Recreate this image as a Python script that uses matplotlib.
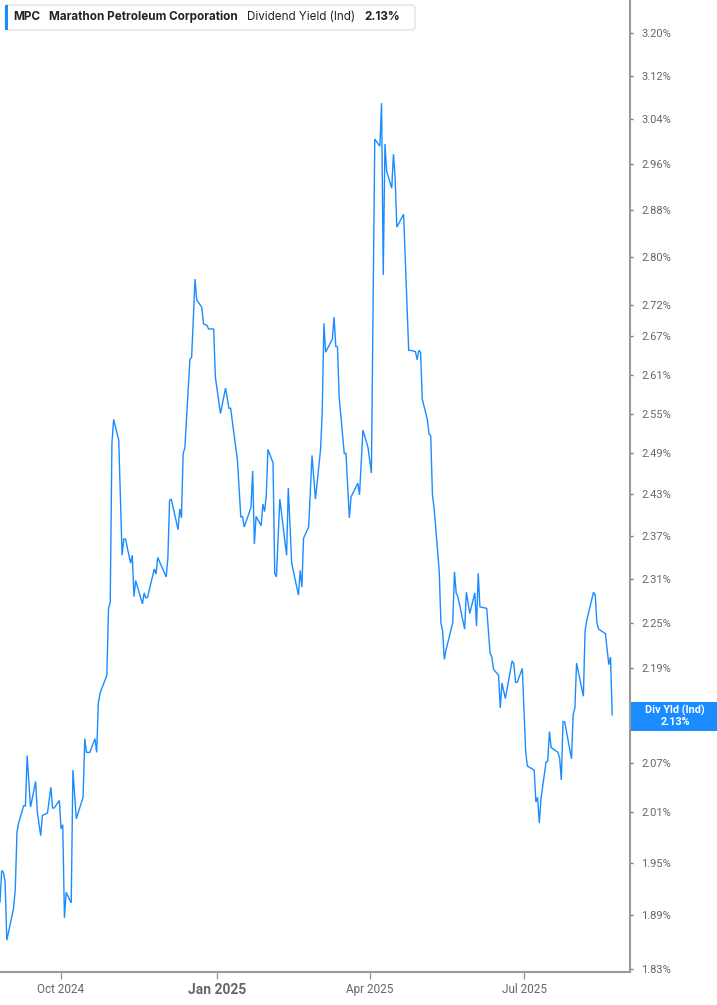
import matplotlib
matplotlib.use("Agg")
import matplotlib.pyplot as plt
import matplotlib.ticker as mticker
from matplotlib.patches import FancyBboxPatch, Rectangle
import pandas as pd

# Dividend yield (indicated), %
dates = [
    "2024-08-26", "2024-08-27", "2024-08-28", "2024-08-29", "2024-08-30", "2024-09-03",
    "2024-09-04", "2024-09-05", "2024-09-06", "2024-09-09", "2024-09-10", "2024-09-11",
    "2024-09-13", "2024-09-16", "2024-09-17", "2024-09-19", "2024-09-20", "2024-09-23",
    "2024-09-25", "2024-09-26", "2024-09-27", "2024-09-30", "2024-10-01", "2024-10-02",
    "2024-10-03", "2024-10-04", "2024-10-07", "2024-10-08", "2024-10-10", "2024-10-14",
    "2024-10-15", "2024-10-16", "2024-10-18", "2024-10-21", "2024-10-22", "2024-10-23",
    "2024-10-24", "2024-10-28", "2024-10-29", "2024-10-30", "2024-10-31", "2024-11-01",
    "2024-11-04", "2024-11-06", "2024-11-07", "2024-11-08", "2024-11-11", "2024-11-12",
    "2024-11-13", "2024-11-14", "2024-11-18", "2024-11-19", "2024-11-20", "2024-11-21",
    "2024-11-25", "2024-11-26", "2024-11-27", "2024-12-02", "2024-12-03", "2024-12-04",
    "2024-12-05", "2024-12-09", "2024-12-10", "2024-12-11", "2024-12-12", "2024-12-13",
    "2024-12-16", "2024-12-17", "2024-12-19", "2024-12-20", "2024-12-23", "2024-12-24",
    "2024-12-26", "2024-12-27", "2024-12-30", "2024-12-31", "2025-01-03", "2025-01-06",
    "2025-01-08", "2025-01-09", "2025-01-13", "2025-01-15", "2025-01-16", "2025-01-17",
    "2025-01-21", "2025-01-22", "2025-01-23", "2025-01-24", "2025-01-27", "2025-01-28",
    "2025-01-29", "2025-01-30", "2025-01-31", "2025-02-03", "2025-02-04", "2025-02-05",
    "2025-02-07", "2025-02-11", "2025-02-12", "2025-02-14", "2025-02-18", "2025-02-19",
    "2025-02-20", "2025-02-21", "2025-02-24", "2025-02-26", "2025-02-28", "2025-03-03",
    "2025-03-04", "2025-03-05", "2025-03-06", "2025-03-10", "2025-03-11", "2025-03-12",
    "2025-03-13", "2025-03-14", "2025-03-17", "2025-03-18", "2025-03-20", "2025-03-21",
    "2025-03-25", "2025-03-26", "2025-03-28", "2025-03-31", "2025-04-02", "2025-04-04",
    "2025-04-07", "2025-04-08", "2025-04-09", "2025-04-10", "2025-04-11", "2025-04-14",
    "2025-04-15", "2025-04-16", "2025-04-17", "2025-04-21", "2025-04-24", "2025-04-25",
    "2025-04-28", "2025-04-29", "2025-04-30", "2025-05-01", "2025-05-02", "2025-05-05",
    "2025-05-06", "2025-05-07", "2025-05-08", "2025-05-09", "2025-05-12", "2025-05-13",
    "2025-05-14", "2025-05-15", "2025-05-16", "2025-05-20", "2025-05-21", "2025-05-22",
    "2025-05-23", "2025-05-27", "2025-05-28", "2025-05-30", "2025-06-02", "2025-06-03",
    "2025-06-04", "2025-06-05", "2025-06-09", "2025-06-11", "2025-06-12", "2025-06-13",
    "2025-06-16", "2025-06-17", "2025-06-18", "2025-06-20", "2025-06-24", "2025-06-25",
    "2025-06-26", "2025-06-27", "2025-06-30", "2025-07-02", "2025-07-03", "2025-07-07",
    "2025-07-08", "2025-07-09", "2025-07-10", "2025-07-11", "2025-07-14", "2025-07-15",
    "2025-07-16", "2025-07-17", "2025-07-21", "2025-07-22", "2025-07-23", "2025-07-24",
    "2025-07-25", "2025-07-29", "2025-07-30", "2025-07-31", "2025-08-01", "2025-08-05",
    "2025-08-06", "2025-08-07", "2025-08-11", "2025-08-12", "2025-08-13", "2025-08-14",
    "2025-08-18", "2025-08-20", "2025-08-21", "2025-08-22",
]
yields = [
    1.905, 1.941, 1.939, 1.928, 1.862, 1.898,
    1.919, 1.986, 1.997, 2.018, 2.017, 2.079,
    2.016, 2.047, 2.010, 1.982, 2.006, 2.009,
    2.040, 2.015, 2.015, 2.024, 1.990, 1.995,
    1.887, 1.916, 1.904, 2.061, 2.002, 2.028,
    2.100, 2.083, 2.083, 2.100, 2.083, 2.145,
    2.158, 2.181, 2.270, 2.278, 2.505, 2.541,
    2.510, 2.343, 2.366, 2.366, 2.332, 2.343,
    2.286, 2.308, 2.276, 2.291, 2.284, 2.285,
    2.324, 2.317, 2.340, 2.313, 2.340, 2.421,
    2.423, 2.379, 2.409, 2.396, 2.490, 2.498,
    2.634, 2.637, 2.763, 2.729, 2.717, 2.690,
    2.688, 2.682, 2.682, 2.606, 2.550, 2.589,
    2.558, 2.558, 2.480, 2.397, 2.398, 2.383,
    2.411, 2.464, 2.359, 2.398, 2.385, 2.416,
    2.405, 2.427, 2.496, 2.476, 2.318, 2.313,
    2.423, 2.343, 2.439, 2.332, 2.288, 2.322,
    2.299, 2.367, 2.383, 2.487, 2.423, 2.495,
    2.550, 2.691, 2.645, 2.666, 2.701, 2.654,
    2.654, 2.575, 2.490, 2.490, 2.396, 2.426,
    2.446, 2.429, 2.525, 2.499, 2.461, 3.004,
    2.991, 3.069, 2.770, 2.995, 2.947, 2.917,
    2.977, 2.935, 2.850, 2.872, 2.648, 2.648,
    2.646, 2.633, 2.648, 2.645, 2.572, 2.541,
    2.519, 2.516, 2.429, 2.410, 2.321, 2.250,
    2.240, 2.202, 2.214, 2.251, 2.320, 2.291,
    2.286, 2.242, 2.292, 2.263, 2.291, 2.246,
    2.318, 2.272, 2.270, 2.210, 2.205, 2.189,
    2.181, 2.139, 2.171, 2.151, 2.200, 2.196,
    2.172, 2.172, 2.190, 2.083, 2.066, 2.061,
    2.022, 2.028, 1.997, 2.026, 2.071, 2.072,
    2.109, 2.089, 2.083, 2.076, 2.049, 2.122,
    2.121, 2.075, 2.131, 2.139, 2.197, 2.154,
    2.239, 2.254, 2.292, 2.288, 2.250, 2.242,
    2.236, 2.195, 2.205, 2.130,
]
ytick_values = [3.20, 3.12, 3.04, 2.96, 2.88, 2.80, 2.72, 2.67, 2.61, 2.55, 2.49,
                2.43, 2.37, 2.31, 2.25, 2.19, 2.13, 2.07, 2.01, 1.95, 1.89, 1.83]
xtick_dates = ["2024-10-01", "2025-01-01", "2025-04-01", "2025-07-01"]
xtick_labels = ["Oct 2024", "Jan 2025", "Apr 2025", "Jul 2025"]

ticker_symbol = "MPC"
company = "Marathon Petroleum Corporation"
metric = "Dividend Yield (Ind)"
last_label = "Div Yld (Ind)"

LINE_BLUE = "#1a8cff"
AXIS_GREY = "#9a9a9a"
TEXT_GREY = "#666666"

W, H = 717, 1005
fig = plt.figure(figsize=(W / 100, H / 100), dpi=100)
fig.patch.set_facecolor("white")


def px(x, y):
    """pixel position (from top-left) to figure fraction"""
    return x / W, 1 - y / H


def pct_label(v, pos):
    # the tick under the last-value badge is covered in the original
    if abs(v - yields[-1]) < 0.005:
        return ""
    return f"{v:.2f}%"


ax = fig.add_axes([0, 33 / H, 630 / W, 1 - 33 / H])
x = pd.to_datetime(dates)
ax.plot(x, yields, color=LINE_BLUE, lw=1.0, solid_joinstyle="miter")

ax.set_yscale("log")
ax.set_ylim(1.827, 3.264)
ax.set_xlim(pd.Timestamp("2024-08-26"), pd.Timestamp("2025-09-01 12:00"))

ax.yaxis.tick_right()
ax.yaxis.set_major_locator(mticker.FixedLocator(ytick_values))
ax.yaxis.set_minor_locator(mticker.NullLocator())
ax.yaxis.set_major_formatter(mticker.FuncFormatter(pct_label))
ax.tick_params(axis="y", which="major", length=2, width=1, color="#777777",
               labelsize=8, labelcolor=TEXT_GREY, pad=6)
for lab in ax.get_yticklabels():
    lab.set_family(["Roboto", "DejaVu Sans"])

ax.set_xticks(pd.to_datetime(xtick_dates))
ax.set_xticklabels(xtick_labels)
ax.xaxis.set_minor_locator(mticker.NullLocator())
ax.tick_params(axis="x", length=5, width=1, color=AXIS_GREY, labelsize=8.5,
               labelcolor=TEXT_GREY, pad=3)
for lab in ax.get_xticklabels():
    lab.set_family(["Roboto", "DejaVu Sans"])
    if lab.get_text() == "Jan 2025":
        lab.set_fontsize(10)
        lab.set_fontweight("bold")

for side in ["left", "top"]:
    ax.spines[side].set_visible(False)
for side in ["right", "bottom"]:
    ax.spines[side].set_color(AXIS_GREY)
    ax.spines[side].set_linewidth(1.5)

# header card
x0, y0 = px(5, 30)
x1, y1 = px(415, 5)
card = FancyBboxPatch((x0, y0), x1 - x0, y1 - y0, transform=fig.transFigure,
                      boxstyle="round,pad=0,rounding_size=0.004",
                      facecolor="white", edgecolor="#e3e3e3", lw=1)
fig.patches.append(card)
bx, by = px(5, 30)
fig.patches.append(Rectangle((bx, by), 3 / W, 25 / H, transform=fig.transFigure,
                             facecolor=LINE_BLUE, edgecolor="none"))
hy = px(0, 17)[1]
header = [(13, ticker_symbol, "bold"), (49, company, "bold"),
          (247, metric, "normal"), (364, f"{yields[-1]:.2f}%", "bold")]
for hx, txt, weight in header:
    fig.text(hx / W, hy, txt, fontsize=8.4, fontweight=weight, color="#222222",
             va="center", ha="left", family=["Inter", "DejaVu Sans"])

# last value badge on the axis
lx, ly = px(631, 731)
fig.patches.append(Rectangle((lx, ly), 86 / W, 29 / H, transform=fig.transFigure,
                             facecolor=LINE_BLUE, edgecolor="none"))
fig.text(675 / W, px(0, 710)[1], last_label, fontsize=7.8, fontweight="bold",
         color="white", ha="center", va="center", family=["Roboto", "DejaVu Sans"])
fig.text(675 / W, px(0, 722)[1], f"{yields[-1]:.2f}%", fontsize=7.8, fontweight="bold",
         color="white", ha="center", va="center", family=["Roboto", "DejaVu Sans"])

fig.savefig("out.png", dpi=100)
